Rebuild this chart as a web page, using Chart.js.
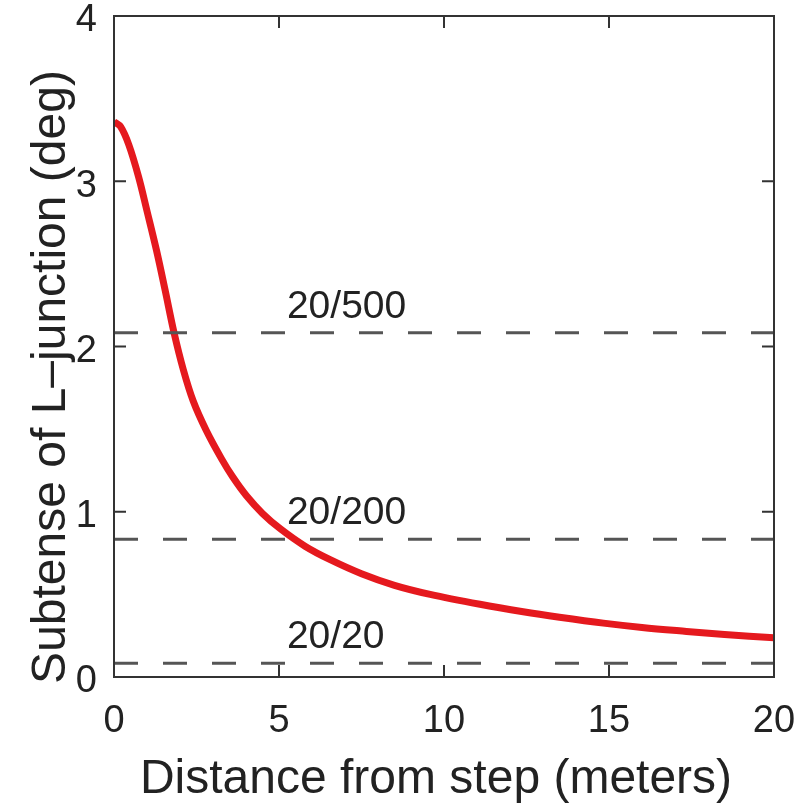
<!DOCTYPE html>
<html>
<head>
<meta charset="utf-8">
<script src="https://cdn.jsdelivr.net/npm/chart.js@4.4.1/dist/chart.umd.min.js"></script>
<style>
  html, body { margin: 0; padding: 0; background: #fff; }
  #wrap { width: 800px; height: 811px; }
</style>
</head>
<body>
<div id="wrap"><canvas id="chart"></canvas></div>
<script>
// values
const distance = [0, 0.2, 0.45, 0.74, 1.0, 1.29, 1.55, 1.82, 2.1, 2.4, 2.8, 3.26, 3.6, 4.02, 4.5, 5.05, 5.8, 6.55, 7.5, 8.5, 9.58, 11.09, 12.4, 13.5, 14.83, 16, 17.35, 18.5, 20];
const subtense = [3.36, 3.33, 3.22, 3.03, 2.82, 2.58, 2.34, 2.083, 1.86, 1.67, 1.49, 1.32, 1.21, 1.095, 0.99, 0.895, 0.79, 0.71, 0.625, 0.555, 0.50, 0.44, 0.395, 0.362, 0.326, 0.30, 0.276, 0.257, 0.237];

const acuityLabels = ['20/500', '20/200', '20/20'];
const acuityLevels = [2.083, 0.833, 0.083];
const labelX = 5.24;

const xTicks = [0, 5, 10, 15, 20];
const yTicks = [0, 1, 2, 3, 4];

const FONT = '"Liberation Sans", Arial, Helvetica, sans-serif';
const INK = '#222';

const datasets = acuityLevels.map(v => ({
    data: [{ x: 0, y: v }, { x: 20, y: v }],
    borderColor: '#555',
    borderWidth: 3,
    borderDash: [24, 25],
    pointRadius: 0,
    order: 0
}));
datasets.push({
    data: distance.map((d, i) => ({ x: d, y: subtense[i] })),
    borderColor: '#e5191e',
    borderWidth: 7,
    pointRadius: 0,
    tension: 0.35,
    borderCapStyle: 'butt',
    order: 1
});

// box, inward ticks, line labels, axis titles
const framePlugin = {
    id: 'frame',
    afterDatasetsDraw(chart) {
        const { ctx, chartArea: a, scales: { x, y } } = chart;
        ctx.save();

        ctx.fillStyle = INK;
        ctx.font = '39px ' + FONT;
        ctx.textAlign = 'left';
        ctx.textBaseline = 'alphabetic';
        acuityLabels.forEach((t, i) => {
            ctx.fillText(t, x.getPixelForValue(labelX), y.getPixelForValue(acuityLevels[i]) - 15);
        });

        ctx.strokeStyle = '#333';
        ctx.lineWidth = 2;
        ctx.beginPath();
        x.ticks.forEach(t => {
            const px = x.getPixelForValue(t.value);
            ctx.moveTo(px, a.bottom); ctx.lineTo(px, a.bottom - 12);
            ctx.moveTo(px, a.top); ctx.lineTo(px, a.top + 12);
        });
        y.ticks.forEach(t => {
            const py = y.getPixelForValue(t.value);
            ctx.moveTo(a.left, py); ctx.lineTo(a.left + 12, py);
            ctx.moveTo(a.right, py); ctx.lineTo(a.right - 12, py);
        });
        ctx.stroke();
        ctx.strokeRect(a.left, a.top, a.right - a.left, a.bottom - a.top);

        ctx.font = '48px ' + FONT;
        ctx.textAlign = 'center';
        ctx.fillText('Distance from step (meters)', (a.left + a.right) / 2 - 8, 793);

        ctx.translate(65, 377);
        ctx.rotate(-Math.PI / 2);
        ctx.fillText('Subtense of L\u2013junction (deg)', 0, 0);

        ctx.restore();
    }
};

new Chart(document.getElementById('chart'), {
    type: 'line',
    data: { datasets: datasets },
    options: {
        responsive: true,
        maintainAspectRatio: false,
        animation: false,
        layout: { padding: { top: 16, right: 26, left: 0, bottom: 0 } },
        plugins: { legend: { display: false }, tooltip: { enabled: false } },
        scales: {
            x: {
                type: 'linear',
                min: 0,
                max: 20,
                afterBuildTicks: s => { s.ticks = xTicks.map(v => ({ value: v })); },
                afterFit: s => { s.height = 134; s.paddingLeft = 0; s.paddingRight = 0; },
                grid: { display: false, drawTicks: false },
                border: { display: false },
                ticks: {
                    color: INK,
                    padding: 22,
                    maxRotation: 0,
                    font: { family: FONT, size: 38 }
                }
            },
            y: {
                type: 'linear',
                min: 0,
                max: 4,
                afterBuildTicks: s => { s.ticks = yTicks.map(v => ({ value: v })); },
                afterFit: s => { s.width = 114; s.paddingTop = 0; s.paddingBottom = 0; },
                grid: { display: false, drawTicks: false },
                border: { display: false },
                ticks: {
                    color: INK,
                    padding: 17,
                    labelOffset: 5,
                    font: { family: FONT, size: 38 }
                }
            }
        }
    },
    plugins: [framePlugin]
});
</script>
</body>
</html>
